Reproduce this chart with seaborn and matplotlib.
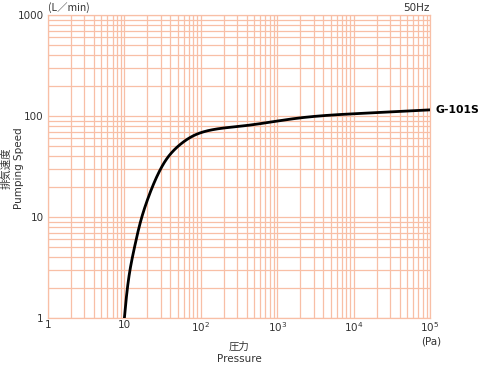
import matplotlib
matplotlib.use("Agg")
import matplotlib.pyplot as plt
import seaborn as sns
import numpy as np
import pandas as pd

# Data (G-101S, 50Hz)
pressure_pa = [10, 11.84, 13.76, 16.84, 20.55, 27.8, 37.5, 56.2, 84, 153.5, 241, 379, 1800, 13400, 100000]
speed_lmin = [1, 2.99, 5.28, 9.89, 15.6, 26.96, 39.5, 53.7, 64.9, 73.9, 77.3, 80.2, 94.9, 106.4, 115]
x_ticks = [1, 10, 100, 1000, 10000, 100000]
x_ticklabels = ["1", "10", "$10^2$", "$10^3$", "$10^4$", "$10^5$"]
y_ticks = [1, 10, 100, 1000]
y_ticklabels = ["1", "10", "100", "1000"]
series_label = "G-101S"

sns.set_theme(style="white")
plt.rcParams['font.family'] = ['DejaVu Sans', 'Noto Sans CJK JP']
plt.rcParams['mathtext.fontset'] = 'dejavusans'

fig = plt.figure(figsize=(4.79, 3.66), dpi=100)
ax = fig.add_axes([48/479, 1 - 318/366, (430-48)/479, (318-15)/366])

df = pd.DataFrame({"p": pressure_pa, "s": speed_lmin})
# work in (roughly isotropic) log space for a smooth parametric spline
u = np.log10(df["p"].values) * 76.4
v = np.log10(df["s"].values) * 101.0

def natural_spline(t, y, tn):
    n = len(t)
    h = np.diff(t)
    A = np.zeros((n, n)); b = np.zeros(n)
    A[0, 0] = 1; A[-1, -1] = 1
    for i in range(1, n - 1):
        A[i, i-1] = h[i-1]; A[i, i] = 2*(h[i-1] + h[i]); A[i, i+1] = h[i]
        b[i] = 3*((y[i+1]-y[i])/h[i] - (y[i]-y[i-1])/h[i-1])
    c = np.linalg.solve(A, b)
    bb = (y[1:]-y[:-1])/h - h*(2*c[:-1] + c[1:])/3
    d = (c[1:] - c[:-1])/(3*h)
    idx = np.clip(np.searchsorted(t, tn) - 1, 0, n - 2)
    dt = tn - t[idx]
    return y[idx] + bb[idx]*dt + c[idx]*dt**2 + d[idx]*dt**3

t = np.concatenate([[0], np.cumsum(np.hypot(np.diff(u), np.diff(v)))])
tn = np.linspace(0, t[-1], 1500)
us = natural_spline(t, u, tn)
vs = natural_spline(t, v, tn)
curve = pd.DataFrame({"p": 10**(us/76.4), "s": 10**(vs/101.0)})

sns.lineplot(data=curve, x="p", y="s", ax=ax, color="black", linewidth=2.0,
             zorder=5, sort=False, estimator=None)

ax.set_xscale("log")
ax.set_yscale("log")
ax.set_xlim(1, 1e5)
ax.set_ylim(1, 1000)

grid_color = "#F8BFA6"
ax.grid(True, which="both", color=grid_color, linewidth=0.9)
ax.set_axisbelow(True)
for s in ax.spines.values():
    s.set_color(grid_color)
    s.set_linewidth(0.9)

ax.set_xticks(x_ticks)
ax.set_xticklabels(x_ticklabels)
ax.set_yticks(y_ticks)
ax.set_yticklabels(y_ticklabels)
ax.xaxis.set_minor_locator(matplotlib.ticker.LogLocator(base=10, subs=np.arange(2, 10), numticks=20))
ax.yaxis.set_minor_locator(matplotlib.ticker.LogLocator(base=10, subs=np.arange(2, 10), numticks=20))
ax.xaxis.set_minor_formatter(matplotlib.ticker.NullFormatter())
ax.yaxis.set_minor_formatter(matplotlib.ticker.NullFormatter())
ax.tick_params(axis="x", which="both", length=0, labelsize=7.5, colors="#333333", pad=1.5)
ax.tick_params(axis="y", which="both", length=0, labelsize=7.5, colors="#333333", pad=3)
ax.set_xlabel("")
ax.set_ylabel("")

tc = "#333333"
fig.text(48/479, 1 - 8/366, "(L／min)", fontsize=7.5, color=tc, ha="left", va="center",
         family=['Noto Sans CJK JP', 'DejaVu Sans'])
fig.text(430/479, 1 - 8/366, "50Hz", fontsize=7.5, color=tc, ha="right", va="center")
fig.text(431/479, 1 - 341/366, "(Pa)", fontsize=7.5, color=tc, ha="center", va="center")
fig.text(239/479, 1 - 347/366, "圧力", fontsize=7.5, color=tc, ha="center", va="center",
         family=['Noto Sans CJK JP', 'DejaVu Sans'])
fig.text(239/479, 1 - 359/366, "Pressure", fontsize=7.5, color=tc, ha="center", va="center")
fig.text(7/479, 1 - 168/366, "排気速度", fontsize=7.5, color=tc, ha="center", va="center",
         rotation=90, family=['Noto Sans CJK JP', 'DejaVu Sans'])
fig.text(19/479, 1 - 168/366, "Pumping Speed", fontsize=7.5, color=tc, ha="center", va="center",
         rotation=90)
ax.annotate(series_label, xy=(pressure_pa[-1], speed_lmin[-1]), xytext=(4, 0),
            textcoords="offset points", fontsize=7.8, fontweight="bold", color="black",
            va="center", ha="left", annotation_clip=False)

fig.savefig("out.png", dpi=100)
